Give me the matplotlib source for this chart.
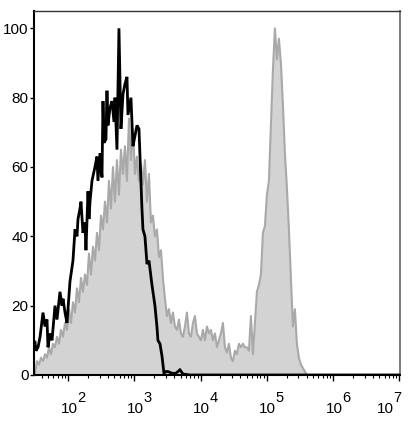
import numpy as np
import matplotlib
matplotlib.use("Agg")
import matplotlib.pyplot as plt
from matplotlib.ticker import FixedLocator, LogLocator, NullFormatter

plt.rcParams['font.family'] = ['Liberation Sans', 'DejaVu Sans']

# Black (unstained / control) histogram: log10 fluorescence, count (% of max)
black_log = [1.502, 1.517, 1.548, 1.578, 1.623, 1.653, 1.683, 1.698, 1.729, 1.759,
             1.804, 1.834, 1.879, 1.910, 1.925, 1.955, 1.985, 2.030, 2.075, 2.106,
             2.136, 2.151, 2.181, 2.196, 2.226, 2.256, 2.271, 2.302, 2.317, 2.332,
             2.362, 2.407, 2.437, 2.452, 2.483, 2.513, 2.528, 2.543, 2.573, 2.588,
             2.603, 2.633, 2.664, 2.694, 2.709, 2.739, 2.769, 2.799, 2.830, 2.860,
             2.890, 2.905, 2.950, 2.980, 3.011, 3.041, 3.071, 3.116, 3.131, 3.161,
             3.192, 3.222, 3.267, 3.312, 3.342, 3.357, 3.388, 3.418, 3.448, 3.478,
             3.508, 3.569, 3.629, 3.689, 3.735, 3.840, 7.0]
black_cnt = [9.5, 7, 8, 11, 18, 14, 16, 8, 12, 10,
             20, 16, 24, 20, 22, 18, 15, 27, 33, 42,
             40, 45, 48, 50, 41, 44, 36, 53, 45, 50,
             56, 60, 63, 56, 64, 57, 79, 67, 68, 82,
             72, 77, 79, 73, 80, 65, 100, 71, 81, 84,
             86, 75, 80, 66, 69, 72, 71, 48, 42, 40,
             32, 33, 26, 20, 14, 10, 9, 5.5, 0.5, 1,
             1, 0.5, 0.5, 1.5, 0.3, 0, 0]

# Gray (stained) histogram: channel bins on log10 scale
gray_start_log = 1.502
gray_step_log = 0.03017
gray_cnt = [0.5, 4, 3, 5, 4, 6, 5, 8, 6, 9,
            8, 11, 9, 13, 11, 15, 13, 19, 15, 21,
            18, 25, 21, 28, 24, 29, 26, 35, 29, 37,
            33, 41, 36, 46, 42, 50, 44, 56, 48, 60,
            50, 62, 52, 65, 58, 66, 56, 74, 62, 71,
            58, 63, 56, 61, 55, 62, 50, 58, 44, 46,
            40, 42, 34, 36, 28, 22, 17, 19, 15, 18,
            14, 13, 16, 12, 11, 14, 18, 12, 11, 15,
            17, 12, 11, 10, 13, 10, 14, 12, 13, 10,
            12, 8, 10, 12, 15, 8, 6.5, 9, 5, 4,
            7, 6, 9, 8, 9, 8, 8, 7, 17, 6,
            15, 24, 26, 29, 41, 43, 52, 56, 72, 88,
            100, 91, 97, 90, 78, 64, 54, 42, 28, 14,
            19, 9, 5, 3, 2, 1, 0]

y_ticks = [0, 20, 40, 60, 80, 100]
x_ticks = [1e2, 1e3, 1e4, 1e5, 1e6, 1e7]
x_exponents = ['2', '3', '4', '5', '6', '7']

fig = plt.figure(figsize=(4.14, 4.21), dpi=100)
ax = fig.add_axes([34/414, 1-375/421, 366/414, 364/421])

gray_x = 10 ** (gray_start_log + gray_step_log * np.arange(len(gray_cnt)))
ax.fill_between(gray_x, 0, gray_cnt, color='#d3d3d3', lw=0, zorder=1)
ax.plot(gray_x, gray_cnt, color='#a9a9a9', lw=1.5, zorder=2)
ax.plot(10 ** np.array(black_log), black_cnt, color='black', lw=2.0, zorder=3,
        solid_joinstyle='miter')

ax.set_xscale('log')
ax.set_xlim(10 ** 1.487, 10 ** 7.01)
ax.set_ylim(0, 105)

ax.xaxis.set_major_locator(FixedLocator(x_ticks))
ax.xaxis.set_major_formatter(NullFormatter())
ax.xaxis.set_minor_locator(LogLocator(base=10, subs=np.arange(2, 10)))
ax.xaxis.set_minor_formatter(NullFormatter())
ax.set_yticks(y_ticks)

# "10" with a raised exponent of nearly equal size, as in the reference;
# the last label is pulled left so it stays inside the figure
for i, (xt, ex) in enumerate(zip(x_ticks, x_exponents)):
    shift = -15 if i == len(x_ticks) - 1 else 0
    ax.annotate('10', xy=(xt, 0), xycoords=('data', 'axes fraction'),
                xytext=(1 + shift, -38), textcoords='offset pixels',
                ha='center', va='baseline', fontsize=11, annotation_clip=False)
    ax.annotate(ex, xy=(xt, 0), xycoords=('data', 'axes fraction'),
                xytext=(9 + shift, -27), textcoords='offset pixels',
                ha='left', va='baseline', fontsize=10.5, annotation_clip=False)

ax.tick_params(axis='x', which='major', length=4, width=1, colors='black')
ax.tick_params(axis='x', which='minor', length=2, width=0.8)
ax.tick_params(axis='y', which='major', length=3, width=1, pad=1, labelsize=11)
ax.tick_params(top=False, right=False)

ax.spines['left'].set_color('black')
ax.spines['left'].set_linewidth(1.5)
ax.spines['bottom'].set_color('black')
ax.spines['bottom'].set_linewidth(1.5)
ax.spines['top'].set_color('#333333')
ax.spines['top'].set_linewidth(1.0)
ax.spines['right'].set_color('#666666')
ax.spines['right'].set_linewidth(1.2)

fig.savefig('out.png', dpi=100)
